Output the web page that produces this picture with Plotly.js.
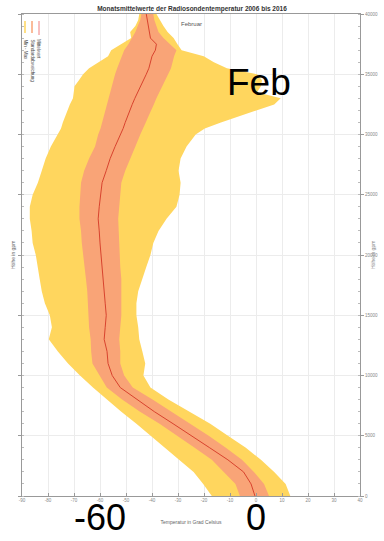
<!DOCTYPE html>
<html>
<head>
<meta charset="utf-8">
<script src="https://cdn.plot.ly/plotly-3.0.1.min.js"></script>
<style>html,body{margin:0;padding:0;background:#fff;}#chart{width:384px;height:541px;}</style>
</head>
<body>
<div id="chart"></div>
<script>
// Heights in gpm
const heights = [0,1000,2000,3000,4000,5000,6000,7000,8000,9000,10000,11000,12000,13000,14000,15000,16000,17000,18000,19000,20000,21000,22000,23000,24000,25000,26000,27000,28000,29000,30000,
  30500,31000,31500,32000,32500,33000,33500,34000,34500,35000,35500,36000,36500,37000,37500,38000,38500,39000,39500,40000];
// Minimum / maximum temperature (yellow band)
const tMin = [-17.0,-20.3,-24.0,-29.4,-34.8,-40.4,-46.0,-51.8,-57.4,-62.7,-67.7,-72.3,-76.2,-79.7,-78.5,-79.3,-81.2,-82.4,-83.2,-83.9,-84.7,-85.9,-86.3,-87.0,-87.0,-85.9,-83.9,-82.4,-80.9,-78.9,-76.4,
  -75.0,-74.3,-73.5,-72.7,-71.6,-70.4,-70.2,-69.8,-68.1,-66.5,-64.2,-60.3,-56.9,-55.7,-51.8,-48.0,-48.4,-46.4,-45.3,-44.9];
const tMax = [13.2,11.4,7.0,1.9,-3.9,-10.8,-17.6,-25.5,-33.7,-40.6,-43.3,-42.6,-43.7,-44.9,-45.3,-46.0,-46.0,-45.3,-43.7,-42.2,-40.6,-39.5,-37.5,-34.4,-30.6,-29.4,-29.0,-29.8,-29.0,-26.7,-23.2,
  -19.7,-13.5,-6.6,0.0,7.0,9.5,0.4,1.9,2.3,0.4,-11.2,-16.2,-20.1,-28.6,-30.2,-31.7,-34.0,-35.6,-37.1,-38.3];
// Mean -/+ standard deviation (orange band)
const tLo = [-6.2,-7.9,-12.4,-17.0,-23.6,-30.4,-37.1,-44.6,-51.5,-57.4,-60.3,-62.9,-63.4,-63.6,-64.2,-64.4,-64.6,-64.9,-65.4,-66.0,-66.5,-67.0,-67.3,-67.9,-67.9,-67.7,-67.3,-66.1,-64.2,-61.9,-60.7,
  -59.8,-59.2,-58.4,-58.0,-57.3,-56.7,-56.1,-55.5,-54.9,-54.2,-53.4,-52.6,-51.8,-50.7,-49.1,-47.6,-46.4,-45.5,-44.5,-44.1];
const tHi = [5.0,3.1,-0.8,-5.4,-11.6,-18.2,-25.1,-32.5,-39.8,-47.4,-50.7,-52.2,-52.2,-52.6,-52.2,-51.8,-51.8,-51.8,-51.8,-52.2,-52.6,-52.6,-52.8,-53.0,-52.8,-52.2,-51.8,-50.3,-48.4,-46.4,-44.5,
  -43.5,-42.4,-41.4,-40.2,-39.3,-38.3,-37.3,-36.2,-35.0,-33.8,-32.7,-32.1,-31.5,-30.6,-33.3,-35.6,-37.5,-38.3,-39.1,-39.5];
// Mean temperature
const tMean = [-0.4,-1.9,-4.8,-10.8,-17.8,-25.1,-31.9,-39.1,-45.6,-52.2,-55.3,-56.9,-57.3,-58.4,-58.0,-57.6,-58.0,-58.4,-58.8,-59.4,-59.8,-60.0,-60.3,-60.7,-60.3,-59.8,-59.2,-57.6,-56.1,-54.2,-52.0,
  -51.1,-50.3,-49.5,-48.7,-47.6,-46.6,-45.5,-44.1,-43.1,-42.2,-41.2,-40.6,-40.0,-38.7,-38.3,-40.6,-41.0,-41.4,-42.0,-42.2];

const xTicks = [-90,-80,-70,-60,-50,-40,-30,-20,-10,0,10,20,30,40];
const yTicks = [0,5000,10000,15000,20000,25000,30000,35000,40000];

const legendLabels = ['Min - Max', 'Standardabweichung', 'Mittelwert'];
const colYellow = '#FFD65E', colOrange = '#F9A477', colRed = '#D8432E';

function band(lo, hi){
  return {x: lo.concat(hi.slice().reverse()), y: heights.concat(heights.slice().reverse())};
}
const b1 = band(tMin, tMax), b2 = band(tLo, tHi);
const traces = [
  {type:'scatter', mode:'lines', x:b1.x, y:b1.y, fill:'toself', fillcolor:colYellow, line:{width:0, color:colYellow}, hoverinfo:'skip', showlegend:false},
  {type:'scatter', mode:'lines', x:b2.x, y:b2.y, fill:'toself', fillcolor:colOrange, line:{width:0, color:colOrange}, hoverinfo:'skip', showlegend:false},
  {type:'scatter', mode:'lines', x:tMean, y:heights, line:{width:1, color:colRed}, showlegend:false}
];

const tickFont = {family:'Liberation Sans, Arial, sans-serif', size:4.5, color:'#888'};
const bigY = (496-540)/482;
const layout = {
  width:384, height:541,
  margin:{l:22, r:24, t:14, b:45, pad:0},
  paper_bgcolor:'#fff', plot_bgcolor:'#fff',
  showlegend:false,
  title:{text:'<b>Monatsmittelwerte der Radiosondentemperatur 2006 bis 2016</b>', font:{family:'Liberation Sans, Arial, sans-serif', size:6.5, color:'#333'}, x:0.5, xanchor:'center', y:0.983, yanchor:'middle'},
  xaxis:{range:[-90,40], tickvals:xTicks, ticktext:xTicks.map(String), tickfont:tickFont,
    showgrid:true, gridcolor:'#ececec', gridwidth:1, zeroline:false,
    showline:true, linecolor:'#999', linewidth:1, mirror:true, ticks:'inside', ticklen:3, tickcolor:'#999',
    title:{text:'Temperatur in Grad Celsius', font:{family:'Liberation Sans, Arial, sans-serif', size:5, color:'#666'}, standoff:18}},
  yaxis:{range:[0,40000], side:'right', tickvals:yTicks, ticktext:yTicks.map(String), tickfont:tickFont,
    showgrid:true, gridcolor:'#ececec', gridwidth:1, zeroline:false,
    showline:true, linecolor:'#999', linewidth:1, mirror:'allticks', ticks:'outside', ticklen:3, tickcolor:'#999',
    minor:{dtick:1000, ticks:'inside', ticklen:2, tickcolor:'#bbb', showgrid:false}},
  annotations:[
    {text:'Februar', xref:'paper', yref:'paper', x:0.5, y:1, yshift:-5, showarrow:false, font:{family:'Liberation Sans, Arial, sans-serif', size:6, color:'#555'}},
    {text:'Höhe in gpm', xref:'paper', yref:'paper', x:0, xshift:-14, y:0.5, textangle:-90, showarrow:false, font:{family:'Liberation Sans, Arial, sans-serif', size:5, color:'#666'}},
    {text:'Höhe in gpm', xref:'paper', yref:'paper', x:1, xshift:18, y:0.5, textangle:-90, showarrow:false, font:{family:'Liberation Sans, Arial, sans-serif', size:5, color:'#888'}},
    {text:'Feb', xref:'paper', yref:'paper', x:(293-22)/338, y:(496-60)/482, showarrow:false, font:{family:'Liberation Sans, Arial, sans-serif', size:37, color:'#000'}},
    {text:'-60', xref:'x', yref:'paper', x:-60, y:bigY, yanchor:'bottom', showarrow:false, font:{family:'Liberation Sans, Arial, sans-serif', size:36, color:'#000'}},
    {text:'0', xref:'x', yref:'paper', x:0, y:bigY, yanchor:'bottom', showarrow:false, font:{family:'Liberation Sans, Arial, sans-serif', size:36, color:'#000'}},
    {text:legendLabels[0], xref:'paper', yref:'paper', x:(25-22)/338, y:(496-37)/482, xanchor:'center', yanchor:'top', textangle:90, showarrow:false, font:{family:'Liberation Sans, Arial, sans-serif', size:4.5, color:'#444'}},
    {text:legendLabels[1], xref:'paper', yref:'paper', x:(32-22)/338, y:(496-37)/482, xanchor:'center', yanchor:'top', textangle:90, showarrow:false, font:{family:'Liberation Sans, Arial, sans-serif', size:4.5, color:'#444'}},
    {text:legendLabels[2], xref:'paper', yref:'paper', x:(39-22)/338, y:(496-37)/482, xanchor:'center', yanchor:'top', textangle:90, showarrow:false, font:{family:'Liberation Sans, Arial, sans-serif', size:4.5, color:'#444'}}
  ],
  shapes:[
    {type:'line', xref:'paper', yref:'paper', x0:(25-22)/338, x1:(25-22)/338, y0:(496-21)/482, y1:(496-33)/482, line:{color:colYellow, width:1.5}},
    {type:'line', xref:'paper', yref:'paper', x0:(32-22)/338, x1:(32-22)/338, y0:(496-21)/482, y1:(496-33)/482, line:{color:colOrange, width:1.5}},
    {type:'line', xref:'paper', yref:'paper', x0:(39-22)/338, x1:(39-22)/338, y0:(496-21)/482, y1:(496-35)/482, line:{color:'#F08080', width:1}}
  ]
};
Plotly.newPlot('chart', traces, layout, {displayModeBar:false, staticPlot:true});
</script>
</body>
</html>
